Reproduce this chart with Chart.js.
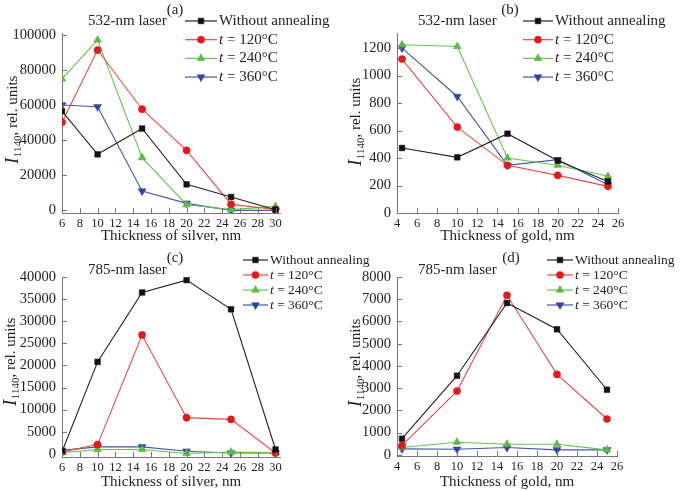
<!DOCTYPE html>
<html>
<head>
<meta charset="utf-8">
<script src="https://cdn.jsdelivr.net/npm/chart.js@4.4.1/dist/chart.umd.min.js"></script>
<style>
  body { margin: 0; background: #fff; }
  #wrap { position: relative; width: 685px; height: 491px; overflow: hidden; }
  canvas { position: absolute; }
</style>
</head>
<body>
<div id="wrap">
  <canvas id="chartA" width="342" height="245" style="left:0;top:0"></canvas>
  <canvas id="chartB" width="343" height="245" style="left:342px;top:0"></canvas>
  <canvas id="chartC" width="400" height="246" style="left:0;top:245px"></canvas>
  <canvas id="chartD" width="343" height="246" style="left:342px;top:245px"></canvas>
</div>
<script>
// thickness values (nm)
const silverX = [6, 10, 15, 20, 25, 30];
const goldX = [4.5, 10, 15, 20, 25];

// tick labels
const silverTicks = [6, 8, 10, 12, 14, 16, 18, 20, 22, 24, 26, 28, 30];
const goldTicks = [4, 6, 8, 10, 12, 14, 16, 18, 20, 22, 24, 26];
const aYTicks = [0, 20000, 40000, 60000, 80000, 100000];
const bYTicks = [0, 200, 400, 600, 800, 1000, 1200];
const cYTicks = [0, 5000, 10000, 15000, 20000, 25000, 30000, 35000, 40000];
const dYTicks = [0, 1000, 2000, 3000, 4000, 5000, 6000, 7000, 8000];

const seriesNames = ['Without annealing', 't = 120°C', 't = 240°C', 't = 360°C'];

// (a) silver, 532 nm
const a532Without = [56500, 31900, 46600, 14800, 7600, 400];
const a532T120 = [50200, 91300, 57600, 34200, 3400, 500];
const a532T240 = [74900, 97000, 30000, 3200, 400, 2300];
const a532T360 = [60000, 59000, 11000, 4000, 0, 0];

// (b) gold, 532 nm
const b532Without = [473, 405, 577, 381, 230];
const b532T120 = [1120, 625, 347, 274, 194];
const b532T240 = [1224, 1212, 400, 347, 267];
const b532T360 = [1200, 848, 347, 388, 206];

// (c) silver, 785 nm
const c785Without = [500, 20800, 36500, 39300, 32700, 1000];
const c785T120 = [450, 2100, 26900, 8200, 7800, 200];
const c785T240 = [300, 1000, 1000, 100, 400, 300];
const c785T360 = [800, 1600, 1600, 600, 200, 200];

// (d) gold, 785 nm
const d785Without = [730, 3560, 6830, 5650, 2930];
const d785T120 = [430, 2870, 7180, 3620, 1615];
const d785T240 = [330, 570, 480, 480, 225];
const d785T360 = [270, 255, 330, 225, 225];

const SERIF = '"Liberation Serif", "Times New Roman", serif';

const styles = [
    { color: '#111111', line: '#222222', pointStyle: 'rect', radius: 4, rotation: 0 },
    { color: '#e3191c', line: '#e84a45', pointStyle: 'circle', radius: 3.6, rotation: 0 },
    { color: '#5cbb45', line: '#66c450', pointStyle: 'triangle', radius: 4.6, rotation: 0 },
    { color: '#34459e', line: '#4457aa', pointStyle: 'triangle', radius: 4.6, rotation: 180 }
];

function makeDatasets(xs, series) {
    return series.map((ys, i) => ({
        label: seriesNames[i],
        data: xs.map((x, k) => ({ x: x, y: ys[k] })),
        borderColor: styles[i].line,
        backgroundColor: styles[i].color,
        pointBackgroundColor: styles[i].color,
        pointBorderColor: styles[i].color,
        pointStyle: styles[i].pointStyle,
        pointRadius: styles[i].radius,
        pointRotation: styles[i].rotation,
        pointBorderWidth: 0.5,
        borderWidth: 1.1,
        tension: 0
    }));
}

// text, legend, y title with subscript, inward ticks
const decorPlugin = {
    id: 'decor',
    afterDraw(chart, args, opts) {
        const ctx = chart.ctx;
        ctx.save();
        ctx.fillStyle = '#222';
        ctx.textBaseline = 'middle';

        // panel tag and laser label
        ctx.font = '15px ' + SERIF;
        ctx.textAlign = 'center';
        ctx.fillText(opts.tag, opts.tagX, opts.tagY);
        ctx.textAlign = 'left';
        ctx.fillText(opts.laser, opts.laserX, opts.laserY);

        // inward tick marks
        const xs = chart.scales.x, ys = chart.scales.y;
        ctx.strokeStyle = '#777';
        ctx.lineWidth = 1;
        ctx.beginPath();
        xs.ticks.forEach(t => {
            const px = Math.round(xs.getPixelForValue(t.value)) + 0.5;
            ctx.moveTo(px, ys.bottom);
            ctx.lineTo(px, ys.bottom - 5);
        });
        ys.ticks.forEach(t => {
            const py = Math.round(ys.getPixelForValue(t.value)) + 0.5;
            ctx.moveTo(xs.left, py);
            ctx.lineTo(xs.left + 5, py);
        });
        ctx.stroke();

        // y axis title: I_1140, rel. units
        ctx.save();
        ctx.translate(opts.yTitleX, opts.yTitleY);
        ctx.rotate(-Math.PI / 2);
        const fI = 'italic 19px ' + SERIF, fSub = '11px ' + SERIF, fRest = '15px ' + SERIF;
        ctx.font = fI; const wI = ctx.measureText('I').width;
        ctx.font = fSub; const wS = ctx.measureText('1140').width;
        ctx.font = fRest; const wR = ctx.measureText(', rel. units').width;
        let cx = -(wI + wS + wR) / 2;
        ctx.textAlign = 'left';
        ctx.textBaseline = 'alphabetic';
        ctx.font = fI; ctx.fillText('I', cx, 6); cx += wI + 0.5;
        ctx.font = fSub; ctx.fillText('1140', cx, 9); cx += wS;
        ctx.font = fRest; ctx.fillText(', rel. units', cx, 5);
        ctx.restore();

        // legend
        chart.data.datasets.forEach((ds, i) => {
            const y = opts.legTop + i * opts.legGap;
            ctx.strokeStyle = ds.borderColor;
            ctx.lineWidth = 1.2;
            ctx.beginPath();
            ctx.moveTo(opts.legX0, y);
            ctx.lineTo(opts.legX1, y);
            ctx.stroke();
            ctx.fillStyle = ds.pointBackgroundColor;
            ctx.strokeStyle = ds.pointBorderColor;
            ctx.lineWidth = 0.5;
            Chart.helpers.drawPoint(ctx, {
                pointStyle: ds.pointStyle, radius: ds.pointRadius,
                rotation: ds.pointRotation, borderWidth: 0.5
            }, (opts.legX0 + opts.legX1) / 2, y);
            ctx.fillStyle = '#222';
            ctx.textBaseline = 'middle';
            ctx.textAlign = 'left';
            let tx = opts.legTextX;
            let txt = ds.label;
            if (txt.startsWith('t ')) {
                ctx.font = 'italic ' + opts.legFont + 'px ' + SERIF;
                ctx.fillText('t', tx, y);
                tx += ctx.measureText('t').width;
                txt = txt.slice(1);
            }
            ctx.font = opts.legFont + 'px ' + SERIF;
            ctx.fillText(txt, tx, y);
        });
        ctx.restore();
    }
};

function renderPanel(id, cfg) {
    const ctx = document.getElementById(id).getContext('2d');
    new Chart(ctx, {
        type: 'line',
        data: { datasets: makeDatasets(cfg.xs, cfg.series) },
        plugins: [decorPlugin],
        options: {
            responsive: false,
            animation: false,
            devicePixelRatio: 1,
            layout: { padding: { left: 0, top: cfg.top, right: cfg.padRight, bottom: 0 } },
            plugins: {
                legend: { display: false },
                tooltip: { enabled: false },
                decor: cfg.decor
            },
            scales: {
                x: {
                    type: 'linear',
                    min: cfg.xMin,
                    max: cfg.xMax,
                    grid: { display: false, drawTicks: false },
                    border: { display: true, color: '#777', width: 1 },
                    ticks: {
                        autoSkip: false,
                        maxRotation: 0,
                        padding: 3,
                        color: '#222',
                        font: { family: SERIF, size: 12.5 },
                        callback: v => String(v)
                    },
                    afterBuildTicks: s => { s.ticks = cfg.xTicks.map(v => ({ value: v })); },
                    afterFit: s => { s.height = cfg.xHeight; },
                    title: {
                        display: true,
                        text: cfg.xTitle,
                        color: '#222',
                        font: { family: SERIF, size: 15 },
                        padding: { top: 0, bottom: 0 }
                    }
                },
                y: {
                    min: cfg.yMin,
                    max: cfg.yMax,
                    grid: { display: false, drawTicks: false },
                    border: { display: true, color: '#777', width: 1 },
                    ticks: {
                        autoSkip: false,
                        padding: 6,
                        color: '#222',
                        font: { family: SERIF, size: 14.5 },
                        callback: v => String(v)
                    },
                    afterBuildTicks: s => { s.ticks = cfg.yTicks.map(v => ({ value: v })); },
                    afterFit: s => { s.width = cfg.yWidth; }
                }
            }
        }
    });
}

renderPanel('chartA', {
    xs: silverX, series: [a532Without, a532T120, a532T240, a532T360],
    top: 33, padRight: 62, xHeight: 32, yWidth: 62,
    xMin: 6, xMax: 30.5, xTicks: silverTicks, xTitle: 'Thickness of silver, nm',
    yMin: -1500, yMax: 101000, yTicks: aYTicks,
    decor: { tag: '(a)', tagX: 175, tagY: 10, laser: '532-nm laser', laserX: 88, laserY: 21,
             yTitleX: 12, yTitleY: 120,
             legX0: 185, legX1: 217, legTextX: 219, legTop: 21, legGap: 18.7, legFont: 15 }
});

renderPanel('chartB', {
    xs: goldX, series: [b532Without, b532T120, b532T240, b532T360],
    top: 33, padRight: 67, xHeight: 32, yWidth: 55,
    xMin: 4, xMax: 26, xTicks: goldTicks, xTitle: 'Thickness of gold, nm',
    yMin: 0, yMax: 1310, yTicks: bYTicks,
    decor: { tag: '(b)', tagX: 168, tagY: 10, laser: '532-nm laser', laserX: 76, laserY: 21,
             yTitleX: 13, yTitleY: 122,
             legX0: 181, legX1: 211, legTextX: 213, legTop: 21, legGap: 18.7, legFont: 15 }
});

renderPanel('chartC', {
    xs: silverX, series: [c785Without, c785T120, c785T240, c785T360],
    top: 32, padRight: 120, xHeight: 34, yWidth: 62,
    xMin: 6, xMax: 30.5, xTicks: silverTicks, xTitle: 'Thickness of silver, nm',
    yMin: -700, yMax: 40000, yTicks: cYTicks,
    decor: { tag: '(c)', tagX: 175, tagY: 13, laser: '785-nm laser', laserX: 88, laserY: 25,
             yTitleX: 10, yTitleY: 117,
             legX0: 243, legX1: 268, legTextX: 270, legTop: 15, legGap: 15, legFont: 13.5 }
});

renderPanel('chartD', {
    xs: goldX, series: [d785Without, d785T120, d785T240, d785T360],
    top: 32, padRight: 68, xHeight: 35, yWidth: 55,
    xMin: 4, xMax: 26, xTicks: goldTicks, xTitle: 'Thickness of gold, nm',
    yMin: -50, yMax: 8000, yTicks: dYTicks,
    decor: { tag: '(d)', tagX: 169, tagY: 13, laser: '785-nm laser', laserX: 76, laserY: 25,
             yTitleX: 13, yTitleY: 118,
             legX0: 205, legX1: 231, legTextX: 233, legTop: 15, legGap: 15, legFont: 13.5 }
});
</script>
</body>
</html>
